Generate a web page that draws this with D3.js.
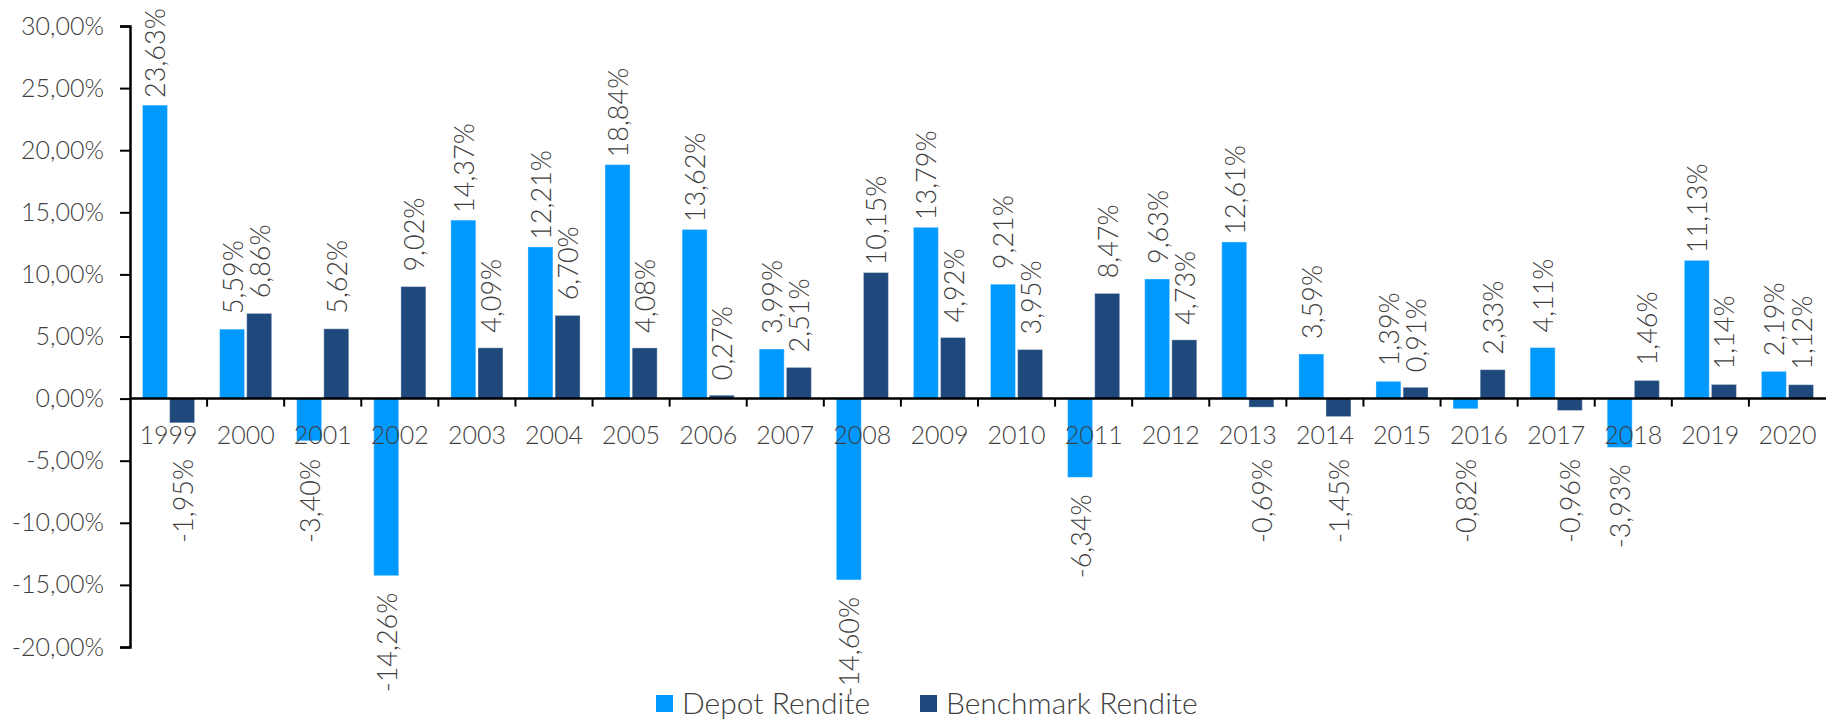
<!DOCTYPE html>
<html>
<head>
<meta charset="utf-8">
<script src="https://cdn.jsdelivr.net/npm/d3@7"></script>
<style>
  body { margin: 0; background: #fff; }
  svg text { font-family: Lato, "Open Sans", sans-serif; font-weight: 300; fill: #404040; }
</style>
</head>
<body>
<div id="chart"></div>
<script>
const years = ["1999","2000","2001","2002","2003","2004","2005","2006","2007","2008","2009",
  "2010","2011","2012","2013","2014","2015","2016","2017","2018","2019","2020"];
const depot = [23.63, 5.59, -3.40, -14.26, 14.37, 12.21, 18.84, 13.62, 3.99, -14.60, 13.79,
  9.21, -6.34, 9.63, 12.61, 3.59, 1.39, -0.82, 4.11, -3.93, 11.13, 2.19];
const benchmark = [-1.95, 6.86, 5.62, 9.02, 4.09, 6.70, 4.08, 0.27, 2.51, 10.15, 4.92,
  3.95, 8.47, 4.73, -0.69, -1.45, 0.91, 2.33, -0.96, 1.46, 1.14, 1.12];
const seriesNames = ["Depot Rendite", "Benchmark Rendite"];
const yTicks = [-20, -15, -10, -5, 0, 5, 10, 15, 20, 25, 30];

const colors = { "Depot Rendite": "#0099ff", "Benchmark Rendite": "#1f497d" };

const width = 1826;
const height = 721;
const margin = { top: 26, right: 0, bottom: 74, left: 130 };

const de = d3.formatLocale({ decimal: ",", thousands: ".", grouping: [3], currency: ["", "€"], minus: "-" });
const fmt = de.format(".2f");

const rows = years.map((y, i) => ({
  year: y,
  values: [
    { key: seriesNames[0], value: depot[i] },
    { key: seriesNames[1], value: benchmark[i] }
  ]
}));

const svg = d3.select("#chart").append("svg")
    .attr("width", width)
    .attr("height", height);

const x0 = d3.scaleBand()
    .domain(years)
    .range([margin.left, width - margin.right])
    .padding(0);

const x1 = d3.scaleBand()
    .domain(seriesNames)
    .range([0, x0.bandwidth()])
    .paddingInner(0.08)
    .paddingOuter(0.46);

const y = d3.scaleLinear()
    .domain([-20, 30])
    .range([height - margin.bottom, margin.top]);

// bars
const group = svg.append("g").selectAll("g")
  .data(rows)
  .join("g")
    .attr("transform", d => `translate(${x0(d.year)},0)`);

group.selectAll("rect")
  .data(d => d.values)
  .join("rect")
    .attr("x", d => x1(d.key))
    .attr("width", x1.bandwidth())
    .attr("y", d => y(Math.max(0, d.value)))
    .attr("height", d => Math.abs(y(d.value) - y(0)))
    .attr("fill", d => colors[d.key])
    .attr("stroke", "#ffffff")
    .attr("stroke-opacity", 0.35)
    .attr("stroke-width", 1);

// data labels, rotated
group.selectAll("text.lbl")
  .data(d => d.values)
  .join("text")
    .attr("class", "lbl")
    .attr("font-size", 27)
    .attr("dominant-baseline", "central")
    .attr("text-anchor", d => d.value >= 0 ? "middle" : "end")
    .attr("transform", d => {
      const cx = x1(d.key) + x1.bandwidth() / 2;
      const cy = d.value >= 0 ? y(d.value) - 52 : Math.max(y(d.value) + 17, 459);
      return `translate(${cx},${cy}) rotate(-90)`;
    })
    .text(d => fmt(d.value) + "%");

// y axis
const yAxis = svg.append("g")
    .attr("transform", `translate(${margin.left},0)`)
    .call(d3.axisLeft(y).tickValues(yTicks).tickSize(10).tickPadding(16)
      .tickFormat(d => fmt(d) + "%"));
yAxis.select(".domain").attr("stroke", "#000").attr("stroke-width", 2.5);
yAxis.selectAll(".tick line").attr("stroke", "#000").attr("stroke-width", 2);
yAxis.selectAll(".tick text").attr("font-size", 25).attr("font-family", null).attr("fill", "#404040");

// x axis at zero
const xAxis = svg.append("g").attr("transform", `translate(0,${y(0)})`);
xAxis.append("line")
    .attr("x1", margin.left).attr("x2", width)
    .attr("stroke", "#000").attr("stroke-width", 2.5);
xAxis.selectAll("line.tk")
  .data(years.slice(1))
  .join("line")
    .attr("class", "tk")
    .attr("x1", d => x0(d)).attr("x2", d => x0(d))
    .attr("y1", 0).attr("y2", 8)
    .attr("stroke", "#000").attr("stroke-width", 2);
xAxis.selectAll("text")
  .data(years)
  .join("text")
    .attr("x", d => x0(d) + x0.bandwidth() / 2)
    .attr("y", 35)
    .attr("text-anchor", "middle")
    .attr("dominant-baseline", "central")
    .attr("font-size", 25)
    .text(d => d);

// legend
const legendX = [656, 920];
const legend = svg.append("g").selectAll("g")
  .data(seriesNames)
  .join("g")
    .attr("transform", (d, i) => `translate(${legendX[i]},695)`);
legend.append("rect")
    .attr("width", 17).attr("height", 17)
    .attr("fill", d => colors[d]);
legend.append("text")
    .attr("x", 26).attr("y", 19)
    .attr("font-size", 30)
    .text(d => d);
</script>
</body>
</html>
